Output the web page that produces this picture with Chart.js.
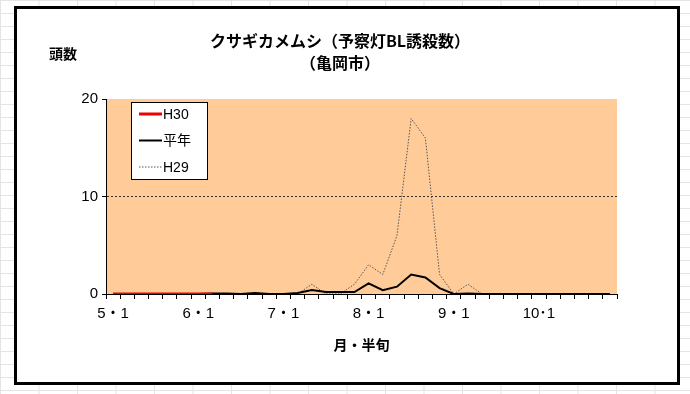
<!DOCTYPE html>
<html>
<head>
<meta charset="utf-8">
<script src="https://cdn.jsdelivr.net/npm/chart.js@4"></script>
<style>
  html, body { margin: 0; padding: 0; }
  body {
    width: 690px; height: 394px; overflow: hidden; position: relative;
    background-color: #fff;
    background-image:
      linear-gradient(to right, #e4e4e4 1px, transparent 1px),
      linear-gradient(to bottom, #e4e4e4 1px, transparent 1px);
    background-size: 38.5px 13px;
    background-position: 0 0;
  }
  #frame {
    position: absolute; left: 14px; top: 6px; width: 666px; height: 379px;
    box-sizing: border-box; border: 3px solid #000; background: #fff;
  }
  #wrap { position: absolute; left: 0; top: 0; width: 690px; height: 394px; }
</style>
</head>
<body>
<div id="frame"></div>
<div id="wrap"><canvas id="chart"></canvas></div>
<script>
// 月・半旬 (5月1半旬 ～ 10月6半旬)
const months = [5, 6, 7, 8, 9, 10];
const tickLabels = ['5・1', '6・1', '7・1', '8・1', '9・1', '10･1'];
const categories = [];
months.forEach(m => { for (let h = 1; h <= 6; h++) categories.push(m + '・' + h); });

const h30 = [0, 0, 0, 0, 0, 0, 0, 0];
const heinen = [0, 0, 0, 0, 0, 0, 0, 0.05, 0.05, 0, 0.1, 0,
                0, 0.1, 0.4, 0.2, 0.2, 0.2, 1.1, 0.4, 0.75, 2.0, 1.7, 0.6,
                0, 0.05, 0, 0, 0, 0, 0, 0, 0, 0, 0, 0];
const h29 = [0, 0, 0, 0, 0, 0, 0, 0, 0, 0, 0, 0,
             0, 0, 1, 0, 0, 1, 3, 2, 6, 18, 16, 2,
             0, 1, 0, 0, 0, 0, 0, 0, 0, 0, 0, 0];
const yTicks = [0, 10, 20];

const FONT = '"Liberation Sans", "Noto Sans CJK JP", sans-serif';
const JFONT = '"Noto Sans CJK JP", sans-serif';

// plot background, titles and the boxed legend
const decor = {
  id: 'decor',
  beforeDraw(chart) {
    const { ctx, chartArea: a } = chart;
    ctx.save();
    ctx.fillStyle = '#FFCC99';
    ctx.fillRect(a.left, a.top, a.right - a.left, a.bottom - a.top);
    ctx.restore();
  },
  afterDraw(chart) {
    const { ctx, chartArea: a } = chart;
    ctx.save();
    ctx.fillStyle = '#000';
    ctx.textAlign = 'center';
    ctx.textBaseline = 'middle';
    ctx.font = 'bold 16px ' + JFONT;
    const cx = 340;
    ctx.fillText('クサギカメムシ（予察灯BL誘殺数）', cx, a.top - 58);
    ctx.fillText('（亀岡市）', cx, a.top - 36);
    ctx.font = 'bold 14px ' + JFONT;
    ctx.textAlign = 'left';
    ctx.fillText('頭数', a.left - 57, a.top - 45);

    // legend
    const bx = a.left + 25, by = a.top + 3, bw = 76, bh = 77;
    ctx.fillStyle = '#fff';
    ctx.fillRect(bx, by, bw, bh);
    ctx.strokeStyle = '#000';
    ctx.lineWidth = 1;
    ctx.strokeRect(bx + 0.5, by + 0.5, bw, bh);
    chart.data.datasets.forEach((ds, i) => {
      const y = by + 12 + i * 26.5;
      ctx.beginPath();
      ctx.strokeStyle = ds.borderColor;
      ctx.lineWidth = ds.borderWidth;
      ctx.setLineDash(ds.borderDash || []);
      ctx.moveTo(bx + 8, y);
      ctx.lineTo(bx + 31, y);
      ctx.stroke();
      ctx.setLineDash([]);
      ctx.fillStyle = '#000';
      ctx.font = '14px ' + FONT;
      ctx.fillText(ds.label, bx + 32, y + 1);
    });
    ctx.restore();
  }
};

new Chart(document.getElementById('chart'), {
  type: 'line',
  data: {
    labels: categories,
    datasets: [
      { label: 'H30', data: h30, borderColor: '#ee0000', borderWidth: 3 },
      { label: '平年', data: heinen, borderColor: '#000', borderWidth: 2 },
      { label: 'H29', data: h29, borderColor: '#555', borderWidth: 1, borderDash: [1.5, 1.5] }
    ]
  },
  options: {
    responsive: true,
    maintainAspectRatio: false,
    animation: false,
    elements: { point: { radius: 0 }, line: { tension: 0 } },
    layout: { padding: { left: 66, right: 73, top: 99, bottom: 40 } },
    plugins: { legend: { display: false }, title: { display: false }, tooltip: { enabled: false } },
    scales: {
      x: {
        offset: true,
        grid: { offset: true, drawOnChartArea: false, drawTicks: true, tickLength: 5, tickColor: '#000' },
        border: { display: true, color: '#000', width: 1 },
        ticks: {
          autoSkip: false, maxRotation: 0, minRotation: 0, padding: 6,
          color: '#000', font: { family: FONT, size: 15 },
          callback: (v, i) => (i % 6 === 0 ? tickLabels[i / 6] : '')
        },
        title: { display: true, text: '月・半旬', color: '#000', font: { family: JFONT, size: 14, weight: 'bold' }, padding: { top: 0, bottom: 1 } },
        afterFit: s => { s.height = 60; }
      },
      y: {
        min: 0, max: 20,
        afterBuildTicks: s => { s.ticks = yTicks.map(v => ({ value: v })); },
        grid: {
          drawTicks: true, tickLength: 4, tickColor: '#000',
          color: c => (c.tick && c.tick.value === 10 ? '#333' : 'transparent')
        },
        border: { display: true, color: '#000', width: 1, dash: [2, 2] },
        ticks: { color: '#000', padding: 4, font: { family: FONT, size: 15 } },
        afterFit: s => { s.width = 40; }
      }
    }
  },
  plugins: [decor]
});
</script>
</body>
</html>
